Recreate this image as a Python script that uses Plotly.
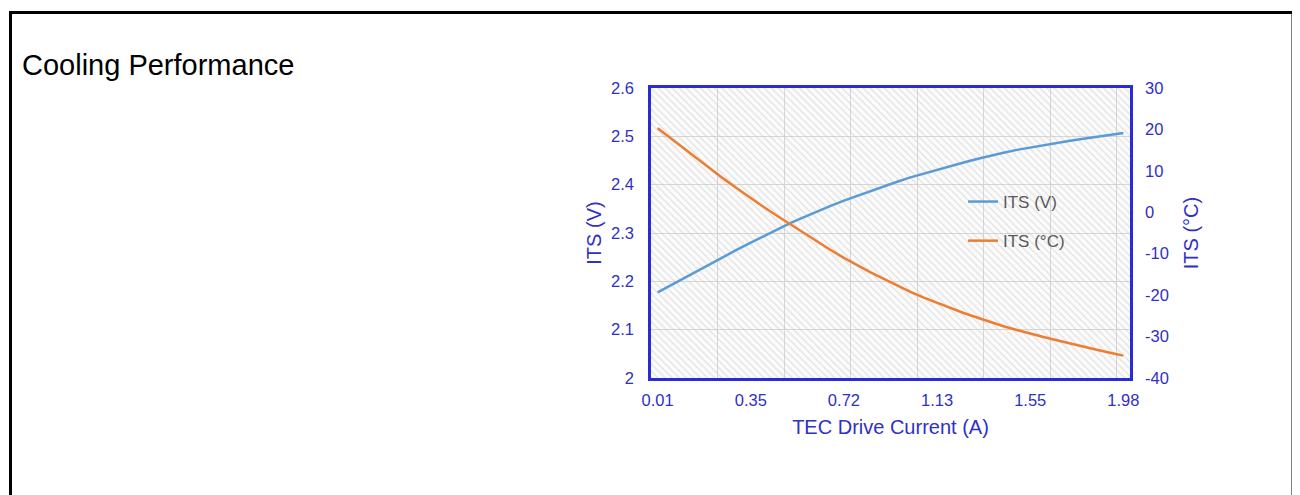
import plotly.graph_objects as go

# ---------------- data ----------------
current_a = [0.01, 0.06, 0.11, 0.16, 0.21, 0.25, 0.30, 0.35,
             0.40, 0.46, 0.51, 0.56, 0.62, 0.67, 0.72,
             0.78, 0.84, 0.89, 0.95, 1.01, 1.07, 1.13,
             1.19, 1.25, 1.31, 1.37, 1.43, 1.49, 1.55,
             1.61, 1.67, 1.73, 1.80, 1.86, 1.92, 1.98]

its_v = [2.177, 2.192, 2.207, 2.222, 2.237, 2.251, 2.266, 2.280,
         2.294, 2.308, 2.321, 2.333, 2.345, 2.356, 2.367,
         2.377, 2.387, 2.397, 2.406, 2.415, 2.423, 2.431,
         2.439, 2.446, 2.453, 2.460, 2.466, 2.472, 2.477,
         2.482, 2.487, 2.491, 2.495, 2.499, 2.503, 2.507]

its_c = [20.3, 17.8, 15.4, 13.0, 10.5, 8.0, 5.7, 3.4,
         1.2, -0.9, -3.0, -5.1, -7.1, -9.1, -11.0,
         -12.8, -14.5, -16.1, -17.7, -19.2, -20.6, -21.9,
         -23.1, -24.3, -25.4, -26.5, -27.5, -28.4, -29.3,
         -30.1, -30.9, -31.7, -32.5, -33.2, -33.9, -34.6]

x_label_every = 7
y_left_ticks = [2.0, 2.1, 2.2, 2.3, 2.4, 2.5, 2.6]
y_left_text = ["2", "2.1", "2.2", "2.3", "2.4", "2.5", "2.6"]
y_right_ticks = [-40, -30, -20, -10, 0, 10, 20, 30]
y_right_text = ["-40", "-30", "-20", "-10", "0", "10", "20", "30"]

# ---------------- layout constants (page pixels) ----------------
PAGE_W, PAGE_H = 1300, 495
OFF = 8                      # default body margin of the html page
W, H = PAGE_W - OFF, PAGE_H - OFF
PLOT_L, PLOT_R, PLOT_T, PLOT_B = 651, 1130, 88, 378
L, T = PLOT_L - OFF, PLOT_T - OFF
R, B = PAGE_W - PLOT_R, PAGE_H - PLOT_B
PW, PH = PLOT_R - PLOT_L, PLOT_B - PLOT_T

AXIS_BLUE = "#2a2ad6"
TEXT_BLUE = "#3030c4"
GRID = "#d6d6d6"
FONT = "Liberation Sans, Arial, sans-serif"

idx = list(range(len(current_a)))
xr = [-0.5, len(current_a) - 0.5]
yr = [y_left_ticks[0], y_left_ticks[-1]]

def px_x(p):   # page x pixel -> paper coordinate
    return (p - PLOT_L) / PW

def px_y(p):   # page y pixel -> paper coordinate
    return (PLOT_B - p) / PH

fig = go.Figure()

# hatched plot background
fig.add_trace(go.Scatter(
    x=[xr[0], xr[1], xr[1], xr[0], xr[0]],
    y=[yr[0], yr[0], yr[1], yr[1], yr[0]],
    mode="none", fill="toself", fillcolor="rgba(0,0,0,0)",
    fillpattern=dict(shape="\\", fgcolor="#c8c8c8", bgcolor="rgba(0,0,0,0)",
                     size=5, solidity=0.25),
    showlegend=False, hoverinfo="skip",
))

fig.add_trace(go.Scatter(
    x=idx, y=its_v, mode="lines", name="ITS (V)",
    line=dict(color="#5b9bd5", width=2.5),
    legendgroup="a",
))
fig.add_trace(go.Scatter(
    x=idx, y=its_c, mode="lines", name="ITS (°C)", yaxis="y2",
    line=dict(color="#ed7d31", width=2.5),
    legendgroup="b",
))

TICK_SIZE = 16.5
TITLE_SIZE = 20

tick_idx = idx[::x_label_every]
fig.update_layout(
    width=W, height=H,
    margin=dict(l=L, r=R, t=T, b=B),
    paper_bgcolor="white",
    plot_bgcolor="#fbfbfb",
    font=dict(family=FONT, color=TEXT_BLUE, size=TICK_SIZE),
    title=dict(text="Cooling Performance", x=(22 - OFF) / W, xref="container",
               xanchor="left", y=1 - (65 - OFF) / H, yref="container", yanchor="middle",
               font=dict(family=FONT, size=29, color="black")),
    xaxis=dict(
        range=xr, tickmode="array", tickvals=tick_idx,
        ticktext=[f"{current_a[i]:.2f}" for i in tick_idx],
        showgrid=False, zeroline=False,
        minor=dict(tick0=-0.5, dtick=5, showgrid=True, gridcolor=GRID, gridwidth=1, ticks=""),
        showline=True, linecolor=AXIS_BLUE, linewidth=2.5, mirror=True,
        ticks="", ticklabelstandoff=5,
        tickfont=dict(size=TICK_SIZE, color=TEXT_BLUE),
        title=dict(text="TEC Drive Current (A)", standoff=13,
                   font=dict(size=TITLE_SIZE, color=TEXT_BLUE)),
    ),
    yaxis=dict(
        range=yr, tickmode="array", tickvals=y_left_ticks, ticktext=y_left_text,
        showgrid=True, gridcolor=GRID, gridwidth=1, zeroline=False,
        showline=True, linecolor=AXIS_BLUE, linewidth=2.5, mirror=True,
        ticks="", ticklabelstandoff=11,
        tickfont=dict(size=TICK_SIZE, color=TEXT_BLUE),
        title=dict(text="ITS (V)", standoff=5, font=dict(size=TITLE_SIZE, color=TEXT_BLUE)),
    ),
    yaxis2=dict(
        range=[y_right_ticks[0], y_right_ticks[-1]], tickmode="array",
        tickvals=y_right_ticks, ticktext=y_right_text, overlaying="y", side="right",
        showgrid=False, zeroline=False,
        showline=True, linecolor=AXIS_BLUE, linewidth=2.5,
        ticks="", ticklabelstandoff=9,
        tickfont=dict(size=TICK_SIZE, color=TEXT_BLUE),
        title=dict(text="ITS (°C)", standoff=17, font=dict(size=TITLE_SIZE, color=TEXT_BLUE)),
    ),
    legend=dict(
        x=px_x(963), y=px_y(184), xanchor="left", yanchor="top",
        bgcolor="rgba(0,0,0,0)", borderwidth=0,
        font=dict(family=FONT, size=17, color="#595959"),
        tracegroupgap=14, traceorder="grouped",
    ),
    shapes=[dict(
        type="rect", xref="paper", yref="paper",
        x0=px_x(10.5), x1=px_x(1293), y0=px_y(520), y1=px_y(12.5),
        line=dict(color="black", width=3), fillcolor="rgba(0,0,0,0)", layer="above",
    )],
)

fig.write_html("out.html")
